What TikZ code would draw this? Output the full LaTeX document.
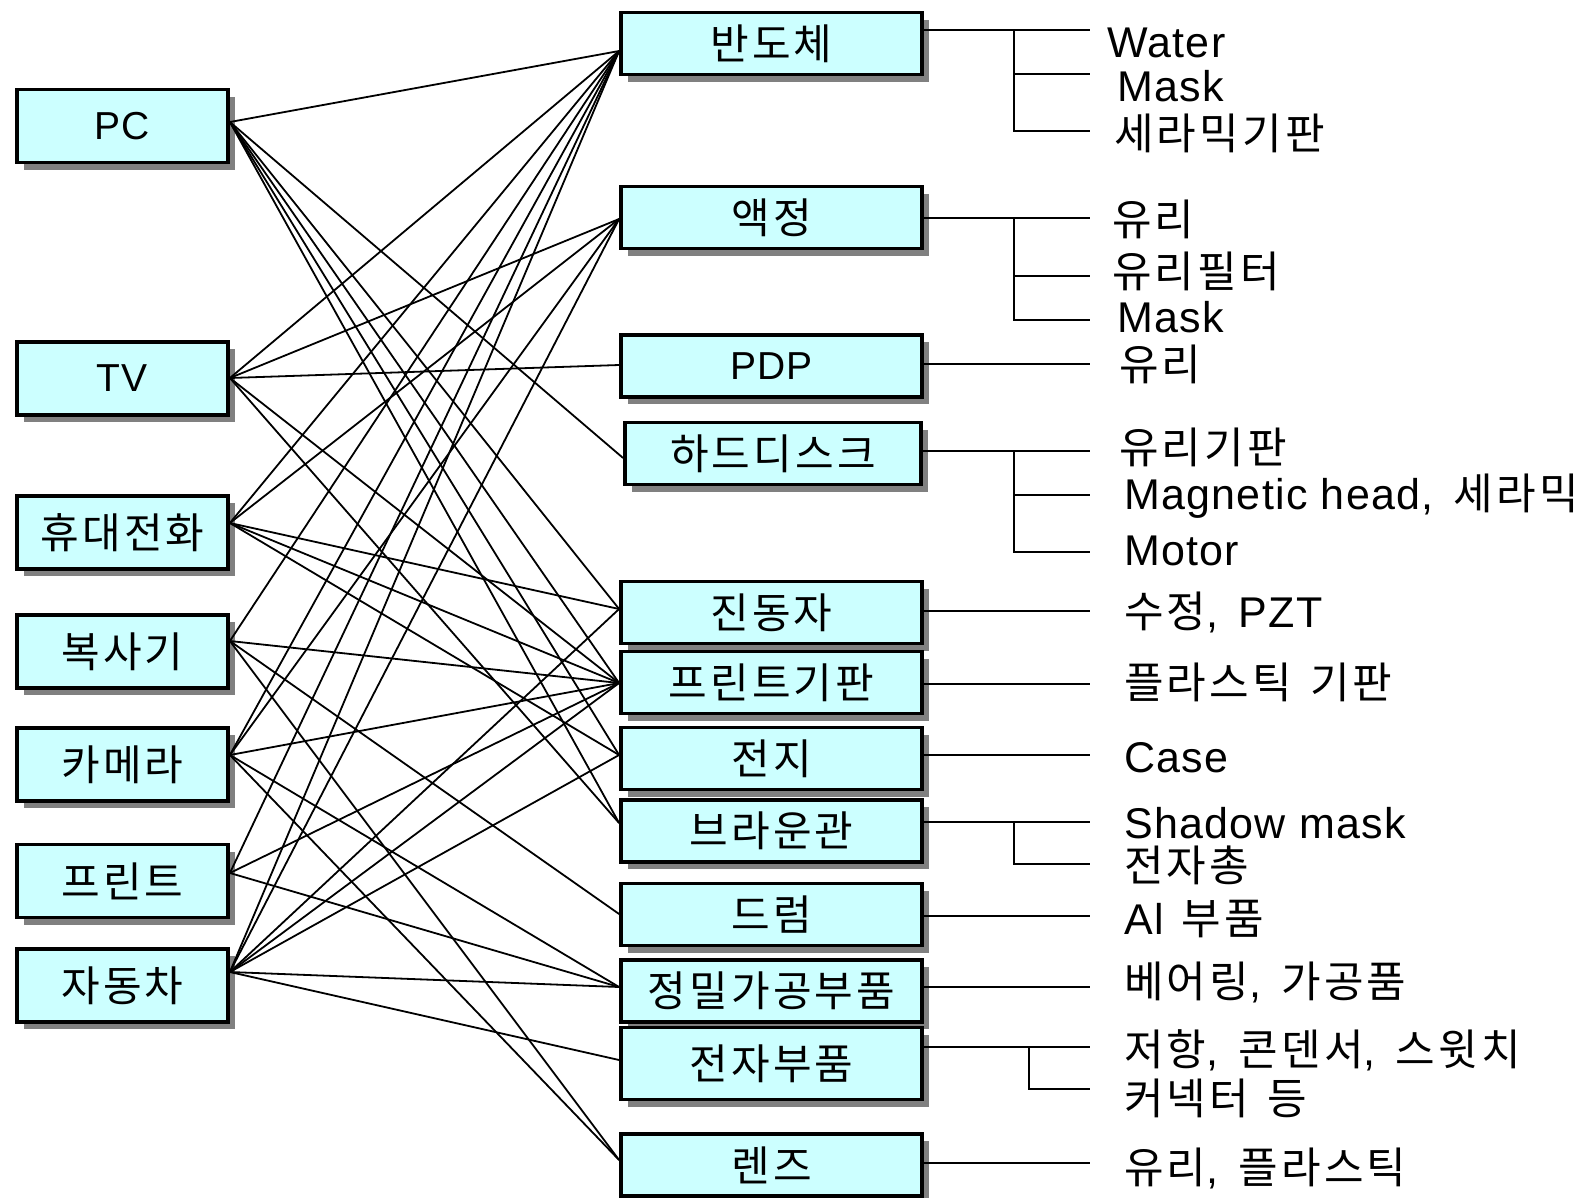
\documentclass[tikz,border=0pt]{standalone}
\usepackage{fontspec}
\setmainfont[LetterSpace=3]{Liberation Sans}
\newfontfamily\hgf[LetterSpace=7.5]{Noto Sans CJK KR}
\newcommand\hgtext[1]{{\hgf #1}}
\newcommand\csep{,\hspace{20pt}}
\newcommand\wsep{\hspace{18pt}}
\usetikzlibrary{shadows}
\definecolor{boxfill}{RGB}{204,255,255}
\definecolor{shade}{RGB}{128,128,128}
\begin{document}
\begin{tikzpicture}[x=1pt,y=-1pt,
  item/.style={draw=black, line width=3.8pt, fill=boxfill, inner sep=0pt,
    font=\fontsize{42}{42}\selectfont,
    drop shadow={shadow xshift=7pt, shadow yshift=-7pt, fill=shade, opacity=1}},
  latin/.style={font=\fontsize{39}{39}\selectfont},
  src/.style={item, minimum width=211pt, minimum height=73pt},
  part/.style={item, minimum width=301pt, minimum height=62pt},
  conn/.style={line width=1.8pt},
  tree/.style={line width=1.8pt},
  lbl/.style={anchor=base west, inner sep=0pt, font=\fontsize{43}{43}\selectfont}]
\useasboundingbox (0,0) rectangle (1579,1197);

% products
\node[src, latin] (pc) at (122.5,126)   {PC};
\node[src, latin] (tv) at (122.5,378.5) {TV};
\node[src] (phone)   at (122.5,532.5) {\hgtext{휴대전화}};
\node[src] (copier)  at (122.5,651.5) {\hgtext{복사기}};
\node[src] (camera)  at (122.5,764.5) {\hgtext{카메라}};
\node[src] (printer) at (122.5,881)   {\hgtext{프린트}};
\node[src] (car)     at (122.5,985.5) {\hgtext{자동차}};

% components
\node[part] (semi) at (771.5,43.5)  {\hgtext{반도체}};
\node[part] (lcd)  at (771.5,217.5) {\hgtext{액정}};
\node[part, latin] (pdp) at (771.5,366) {PDP};
\node[part, minimum width=296pt] (hdd) at (773,453.5) {\hgtext{하드디스크}};
\node[part] (osc)  at (771.5,612.5) {\hgtext{진동자}};
\node[part] (pcb)  at (771.5,682.5) {\hgtext{프린트기판}};
\node[part] (bat)  at (771.5,758.5) {\hgtext{전지}};
\node[part] (crt)  at (771.5,831)   {\hgtext{브라운관}};
\node[part] (drum) at (771.5,914.5) {\hgtext{드럼}};
\node[part] (prec) at (771.5,991)   {\hgtext{정밀가공부품}};
\node[part, minimum height=72pt] (elec) at (771.5,1063.5) {\hgtext{전자부품}};
\node[part] (lens) at (771.5,1165)  {\hgtext{렌즈}};

% connector ports
\foreach \n/\s in {pc/4, tv/0.5, phone/9.5, copier/10.5, camera/9.5, printer/8, car/13.5}
  \coordinate (\n-o) at ([yshift=\s pt]\n.east);
\foreach \n/\s in {semi/-7.5, lcd/-1.5, pdp/1, hdd/-4.5, osc/3.5, pcb/-0.5, bat/3.5,
                   crt/8, drum/0.5, prec/4, elec/3.5, lens/5}
  \coordinate (\n-i) at ([yshift=\s pt]\n.west);
\foreach \n/\s in {semi/13.5, lcd/-0.5, pdp/2, hdd/2.5, osc/1.5, pcb/-1.5, bat/3.5,
                   crt/9, drum/-1.5, prec/4, elec/16.5, lens/2}
  \coordinate (\n-r) at ([yshift=\s pt]\n.east);

% product -> component links
\foreach \a/\b in {pc/semi, pc/hdd, pc/osc, pc/pcb, pc/bat, pc/crt,
                   tv/semi, tv/lcd, tv/pdp, tv/pcb, tv/crt,
                   phone/semi, phone/lcd, phone/osc, phone/pcb, phone/bat,
                   copier/semi, copier/pcb, copier/drum, copier/lens,
                   camera/semi, camera/lcd, camera/pcb, camera/prec, camera/lens,
                   printer/semi, printer/pcb, printer/prec,
                   car/semi, car/lcd, car/osc, car/pcb, car/bat, car/prec, car/elec}
  \draw[conn] (\a-o) -- (\b-i);

% material trees
\coordinate (tip)   at (1090,0);
\coordinate (fork)  at (1014,0);
\coordinate (fork2) at (1029,0);
\foreach \n in {pdp,osc,pcb,bat,drum,prec,lens}
  \draw[tree] (\n-r) -- (\n-r -| tip);

\coordinate (semi-b) at (1014,74);  \coordinate (semi-c) at (1014,131);
\draw[tree] (semi-r) -- (semi-r -| tip);
\draw[tree] (semi-r -| fork) |- (semi-c -| tip);
\draw[tree] (semi-b) -- (semi-b -| tip);

\coordinate (lcd-b) at (1014,276);  \coordinate (lcd-c) at (1014,320);
\draw[tree] (lcd-r) -- (lcd-r -| tip);
\draw[tree] (lcd-r -| fork) |- (lcd-c -| tip);
\draw[tree] (lcd-b) -- (lcd-b -| tip);

\coordinate (hdd-b) at (1014,495);  \coordinate (hdd-c) at (1014,552);
\draw[tree] (hdd-r) -- (hdd-r -| tip);
\draw[tree] (hdd-r -| fork) |- (hdd-c -| tip);
\draw[tree] (hdd-b) -- (hdd-b -| tip);

\coordinate (crt-c) at (1014,864);
\draw[tree] (crt-r) -- (crt-r -| tip);
\draw[tree] (crt-r -| fork) |- (crt-c -| tip);

\coordinate (elec-c) at (1029,1089);
\draw[tree] (elec-r) -- (elec-r -| tip);
\draw[tree] (elec-r -| fork2) |- (elec-c -| tip);

% material labels
\node[lbl] (m1)  at (1107,57)   {Water};
\node[lbl] (m2)  at (1117,101)  {Mask};
\node[lbl] (m3)  at (1114,149)  {\hgtext{세라믹기판}};
\node[lbl] (m4)  at (1112,235)  {\hgtext{유리}};
\node[lbl] (m5)  at (1112,287)  {\hgtext{유리필터}};
\node[lbl] (m6)  at (1117,332)  {Mask};
\node[lbl] (m7)  at (1119,380)  {\hgtext{유리}};
\node[lbl] (m8)  at (1119,463)  {\hgtext{유리기판}};
\node[lbl] (m9)  at (1124,509)  {Magnetic head\csep\hgtext{세라믹}};
\node[lbl] (m10) at (1124,565)  {Motor};
\node[lbl] (m11) at (1124,627)  {\hgtext{수정}\csep PZT};
\node[lbl] (m12) at (1124,698)  {\hgtext{플라스틱}\wsep\hgtext{기판}};
\node[lbl] (m13) at (1124,772)  {Case};
\node[lbl] (m14) at (1124,838)  {Shadow mask};
\node[lbl] (m15) at (1124,881)  {\hgtext{전자총}};
\node[lbl] (m16) at (1124,934)  {Al\wsep\hgtext{부품}};
\node[lbl] (m17) at (1124,997)  {\hgtext{베어링}\csep\hgtext{가공품}};
\node[lbl] (m18) at (1124,1065) {\hgtext{저항}\csep\hgtext{콘덴서}\csep\hgtext{스윗치}};
\node[lbl] (m19) at (1124,1114) {\hgtext{커넥터}\wsep\hgtext{등}};
\node[lbl] (m20) at (1124,1183) {\hgtext{유리}\csep\hgtext{플라스틱}};
\end{tikzpicture}
\end{document}
